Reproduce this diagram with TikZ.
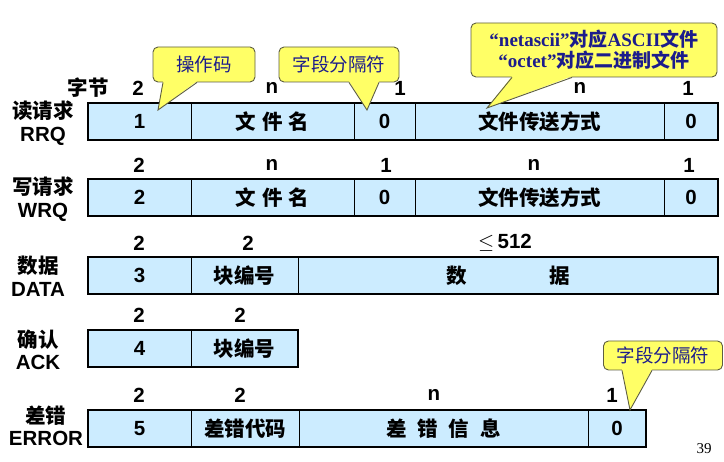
\documentclass[tikz,border=0pt]{standalone}
\usepackage{fontspec}
\setmainfont{Liberation Sans}
\newfontfamily\cjk{Noto Sans CJK SC}
\newfontfamily\tipserif{Liberation Serif}
\definecolor{boxblue}{HTML}{CCECFF}
\definecolor{tipyellow}{HTML}{FFFF66}
\definecolor{tipedge}{HTML}{5E5E40}
\definecolor{tipblue}{HTML}{1C1C8C}
\usetikzlibrary{positioning}
\tikzset{
	field/.style={
			draw=black,
			line width=1pt,
			fill=boxblue,
			inner sep=0pt,
			outer sep=0pt,
			minimum height=37pt,
			font=\bfseries\fontsize{20.5}{22}\selectfont
		},
	outerline/.style={
			draw=black,
			line width=2.6pt
		},
	bytes/.style={
			inner sep=0pt,
			font=\bfseries\fontsize{20.5}{22}\selectfont
		},
	rowname/.style={
			inner sep=0pt,
			align=center,
			font=\bfseries\fontsize{20.5}{22.5}\selectfont
		},
	tipbox/.style={
			draw=tipedge,
			fill=tipyellow,
			line width=0.9pt,
			rounded corners=5pt,
			inner sep=0pt,
			align=center,
			text=tipblue,
			font=\fontsize{18.5}{20}\selectfont
		},
	tipline/.style={
			draw=tipedge,
			line width=0.9pt
		},
	pagenum/.style={
			inner sep=0pt,
			font=\tipserif\fontsize{15}{17}\selectfont
		}
}

\begin{document}
\begin{tikzpicture}[x=1pt, y=-1pt]
\useasboundingbox (0,0) rectangle (724,462);

% RRQ
\node[rowname] (rrqName) at (43,123) {{\cjk 读请求}\\RRQ};
\node[bytes] (rrqUnit) at (88,88) {\cjk 字节};
\node[bytes] (rrqB1) at (138,88) {2};
\node[bytes] (rrqB2) at (272,88) {n};
\node[bytes] (rrqB3) at (400,88) {1};
\node[bytes] (rrqB4) at (580,88) {n};
\node[bytes] (rrqB5) at (688,88) {1};
\node[field, minimum width=103pt, anchor=north west] (rrqOp) at (88,103) {1};
\node[field, minimum width=163pt, right=0pt of rrqOp] (rrqFile) {\cjk 文\hspace{6pt}件\hspace{6pt}名};
\node[field, minimum width=61pt, right=0pt of rrqFile] (rrqSep) {0};
\node[field, minimum width=249pt, right=0pt of rrqSep] (rrqMode) {\cjk 文件传送方式};
\node[field, minimum width=54pt, right=0pt of rrqMode] (rrqEnd) {0};
\draw[outerline] (rrqOp.north west) rectangle (rrqEnd.south east);

% WRQ
\node[rowname] (wrqName) at (43,199) {{\cjk 写请求}\\WRQ};
\node[bytes] (wrqB1) at (139,165) {2};
\node[bytes] (wrqB2) at (272,165) {n};
\node[bytes] (wrqB3) at (386,165) {1};
\node[bytes] (wrqB4) at (534,165) {n};
\node[bytes] (wrqB5) at (689,165) {1};
\node[field, minimum width=103pt, anchor=north west] (wrqOp) at (88,179) {2};
\node[field, minimum width=163pt, right=0pt of wrqOp] (wrqFile) {\cjk 文\hspace{6pt}件\hspace{6pt}名};
\node[field, minimum width=61pt, right=0pt of wrqFile] (wrqSep) {0};
\node[field, minimum width=249pt, right=0pt of wrqSep] (wrqMode) {\cjk 文件传送方式};
\node[field, minimum width=54pt, right=0pt of wrqMode] (wrqEnd) {0};
\draw[outerline] (wrqOp.north west) rectangle (wrqEnd.south east);

% DATA
\node[rowname] (dataName) at (38,276) {{\cjk 数据}\\DATA};
\node[bytes] (dataB1) at (139,243) {2};
\node[bytes] (dataB2) at (248,243) {2};
\node[bytes] (dataB3) at (505,243) {$\le$\,512};
\node[field, minimum width=103pt, anchor=north west] (dataOp) at (88,257) {3};
\node[field, minimum width=107pt, right=0pt of dataOp] (dataBlock) {\cjk 块编号};
\node[field, minimum width=420pt, right=0pt of dataBlock] (dataBody) {\cjk 数\hspace{82pt}据};
\draw[outerline] (dataOp.north west) rectangle (dataBody.south east);

% ACK
\node[rowname] (ackName) at (38,350) {{\cjk 确认}\\ACK};
\node[bytes] (ackB1) at (139,315) {2};
\node[bytes] (ackB2) at (240,315) {2};
\node[field, minimum width=103pt, anchor=north west] (ackOp) at (88,330) {4};
\node[field, minimum width=107pt, right=0pt of ackOp] (ackBlock) {\cjk 块编号};
\draw[outerline] (ackOp.north west) rectangle (ackBlock.south east);

% ERROR
\node[rowname] (errName) at (46,426) {{\cjk 差错}\\ERROR};
\node[bytes] (errB1) at (139,395) {2};
\node[bytes] (errB2) at (240,395) {2};
\node[bytes] (errB3) at (434,395) {n};
\node[bytes] (errB4) at (612,395) {1};
\node[field, minimum width=103pt, anchor=north west] (errOp) at (88,410) {5};
\node[field, minimum width=108pt, right=0pt of errOp] (errCode) {\cjk 差错代码};
\node[field, minimum width=289pt, right=0pt of errCode] (errMsg) {\cjk 差\hspace{11pt}错\hspace{11pt}信\hspace{11pt}息\hspace{26pt}};
\node[field, minimum width=58pt, right=0pt of errMsg] (errEnd) {0};
\draw[outerline] (errOp.north west) rectangle (errEnd.south east);

\node[pagenum] (pageNo) at (704,449) {39};

% callouts
\node[tipbox, minimum width=102pt, minimum height=35pt] (opTip) at (204,64.5) {\cjk 操作码};
\coordinate (opPt) at (158,110);
\fill[tipyellow] ([xshift=-41pt,yshift=1.2pt]opTip.south) -- (opPt) -- ([xshift=-7pt,yshift=1.2pt]opTip.south) -- cycle;
\draw[tipline] ([xshift=-41pt]opTip.south) -- (opPt) -- ([xshift=-7pt]opTip.south);

\node[tipbox, minimum width=120pt, minimum height=35pt] (sepTip) at (339,64.5) {\cjk 字段分隔符};
\coordinate (sepPt) at (367,110);
\fill[tipyellow] ([xshift=10pt,yshift=1.2pt]sepTip.south) -- (sepPt) -- ([xshift=40pt,yshift=1.2pt]sepTip.south) -- cycle;
\draw[tipline] ([xshift=10pt]sepTip.south) -- (sepPt) -- ([xshift=40pt]sepTip.south);

\node[tipbox, minimum width=246pt, minimum height=54pt, font=\bfseries\fontsize{19}{21}\selectfont] (modeTip) at (594,50) {{\tipserif “netascii”}{\cjk 对应}{\tipserif ASCII}{\cjk 文件}\\{\tipserif “octet”}{\cjk 对应二进制文件}};
\coordinate (modePt) at (487,108);
\fill[tipyellow] ([xshift=-82pt,yshift=1.2pt]modeTip.south) -- (modePt) -- ([xshift=-22pt,yshift=1.2pt]modeTip.south) -- cycle;
\draw[tipline] ([xshift=-82pt]modeTip.south) -- (modePt) -- ([xshift=-22pt]modeTip.south);

\node[tipbox, minimum width=119pt, minimum height=29pt] (endTip) at (663,355.5) {\cjk 字段分隔符};
\coordinate (endPt) at (630,410);
\fill[tipyellow] ([xshift=-41pt,yshift=1.2pt]endTip.south) -- (endPt) -- ([xshift=-11pt,yshift=1.2pt]endTip.south) -- cycle;
\draw[tipline] ([xshift=-41pt]endTip.south) -- (endPt) -- ([xshift=-11pt]endTip.south);

\end{tikzpicture}
\end{document}
